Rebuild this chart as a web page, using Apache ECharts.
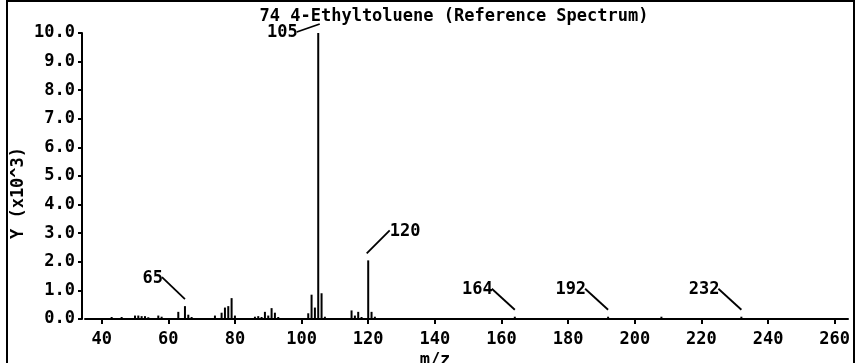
<!DOCTYPE html>
<html><head><meta charset="utf-8">
<script src="https://cdn.jsdelivr.net/npm/echarts@6/dist/echarts.min.js"></script>
<style>html,body{margin:0;padding:0;background:#fff}#c{width:856px;height:363px}</style>
</head><body><div id="c"></div>
<script>
// ---- data (intensity in thousands) ----
const mzValues = [43, 46, 50, 51, 52, 53, 54, 57, 58, 63, 65, 66, 67, 74, 76, 77, 78, 79, 80,
  86, 87, 88, 89, 90, 91, 92, 93, 102, 103, 104, 105, 106, 107, 115, 116, 117, 118, 120, 121, 122,
  164, 192, 208, 232];
const intensities = [0.07, 0.07, 0.12, 0.12, 0.1, 0.1, 0.06, 0.12, 0.08, 0.25, 0.45, 0.15, 0.07, 0.12, 0.22, 0.4, 0.45, 0.73, 0.12,
  0.08, 0.1, 0.07, 0.25, 0.12, 0.38, 0.22, 0.07, 0.2, 0.85, 0.4, 10.0, 0.9, 0.08, 0.3, 0.12, 0.25, 0.07, 2.05, 0.25, 0.08,
  0.08, 0.08, 0.08, 0.08];
const xTicks = [40, 60, 80, 100, 120, 140, 160, 180, 200, 220, 240, 260];
const yTicks = [0, 1, 2, 3, 4, 5, 6, 7, 8, 9, 10];
const labeledPeaks = [65, 105, 120, 164, 192, 232];
const titleText = '74 4-Ethyltoluene (Reference Spectrum)';
const xName = 'm/z';
const yName = 'Y (x10^3)';

// ---- styles ----
const FF = '"DejaVu Sans Mono", "Liberation Mono", monospace';
const FS = 17;
const FONT = 'bold ' + FS + 'px ' + FF;
// leader-line styling per labelled peak (pixel offsets relative to peak top)
const leaderStyle = {
  65:  {ex: 0,   ey: -7, dx: -23, dy: -22, side: 'left'},
  105: {ex: 1.5, ey: -9, dx: -23, dy: 8,   side: 'left'},
  120: {ex: -1.5,ey: -7, dx: 23,  dy: -23, side: 'right'},
  164: {ex: 0,   ey: -7, dx: -23, dy: -21, side: 'left'},
  192: {ex: 0,   ey: -7, dx: -23, dy: -21, side: 'left'},
  232: {ex: 0,   ey: -7, dx: -23, dy: -21, side: 'left'}
};

const barData = mzValues.map((m, i) => [m, intensities[i]]);
const annotData = labeledPeaks.map(m => [m, intensities[mzValues.indexOf(m)]]);

const chart = echarts.init(document.getElementById('c'), null, {renderer: 'canvas'});
chart.setOption({
  animation: false,
  backgroundColor: '#fff',
  grid: {left: 85, right: 8, top: 33, bottom: 44, containLabel: false},
  xAxis: {
    type: 'value', min: 35, max: 264, offset: 3,
    axisLine: {show: true, lineStyle: {color: '#000', width: 2}},
    axisTick: {show: true, length: 5, lineStyle: {color: '#000', width: 2}, customValues: xTicks},
    axisLabel: {color: '#000', fontFamily: FF, fontSize: FS, fontWeight: 'bold', margin: 9, customValues: xTicks, formatter: v => String(v)},
    splitLine: {show: false}
  },
  yAxis: {
    type: 'value', min: yTicks[0], max: yTicks[yTicks.length - 1], interval: 1, offset: 3,
    axisLine: {show: true, lineStyle: {color: '#000', width: 2}},
    axisTick: {show: true, length: 4, lineStyle: {color: '#000', width: 2}},
    axisLabel: {color: '#000', fontFamily: FF, fontSize: FS, fontWeight: 'bold', margin: 7, formatter: v => v.toFixed(1)},
    splitLine: {show: false}
  },
  series: [
    {type: 'bar', data: barData, barWidth: 2, itemStyle: {color: '#000'}, silent: true},
    {
      type: 'custom', clip: false, silent: true, data: annotData,
      renderItem: function (params, api) {
        const m = api.value(0);
        const p = api.coord([m, api.value(1)]);
        const s = leaderStyle[m];
        const ex = p[0] + s.ex, ey = p[1] + s.ey;
        const sx = ex + s.dx, sy = ey + s.dy;
        return {type: 'group', children: [
          {type: 'line', shape: {x1: sx, y1: sy, x2: ex, y2: ey}, style: {stroke: '#000', lineWidth: 1.8}},
          {type: 'text', x: s.side === 'left' ? sx + 1 : sx, y: sy + 1,
           style: {text: String(m), font: FONT, fill: '#000', align: s.side === 'left' ? 'right' : 'left', verticalAlign: 'middle'}}
        ]};
      }
    }
  ],
  graphic: [
    {type: 'rect', shape: {x: 7, y: 1, width: 847, height: 380}, style: {fill: 'none', stroke: '#000', lineWidth: 2}, silent: true},
    {type: 'text', x: 454, y: 17, style: {text: titleText, font: FONT, fill: '#000', align: 'center', verticalAlign: 'middle'}},
    {type: 'text', x: 435, y: 361, style: {text: xName, font: FONT, fill: '#000', align: 'center', verticalAlign: 'middle'}},
    {type: 'text', x: 19, y: 193, rotation: Math.PI / 2, style: {text: yName, font: FONT, fill: '#000', align: 'center', verticalAlign: 'middle'}}
  ]
});
</script>
</body></html>
